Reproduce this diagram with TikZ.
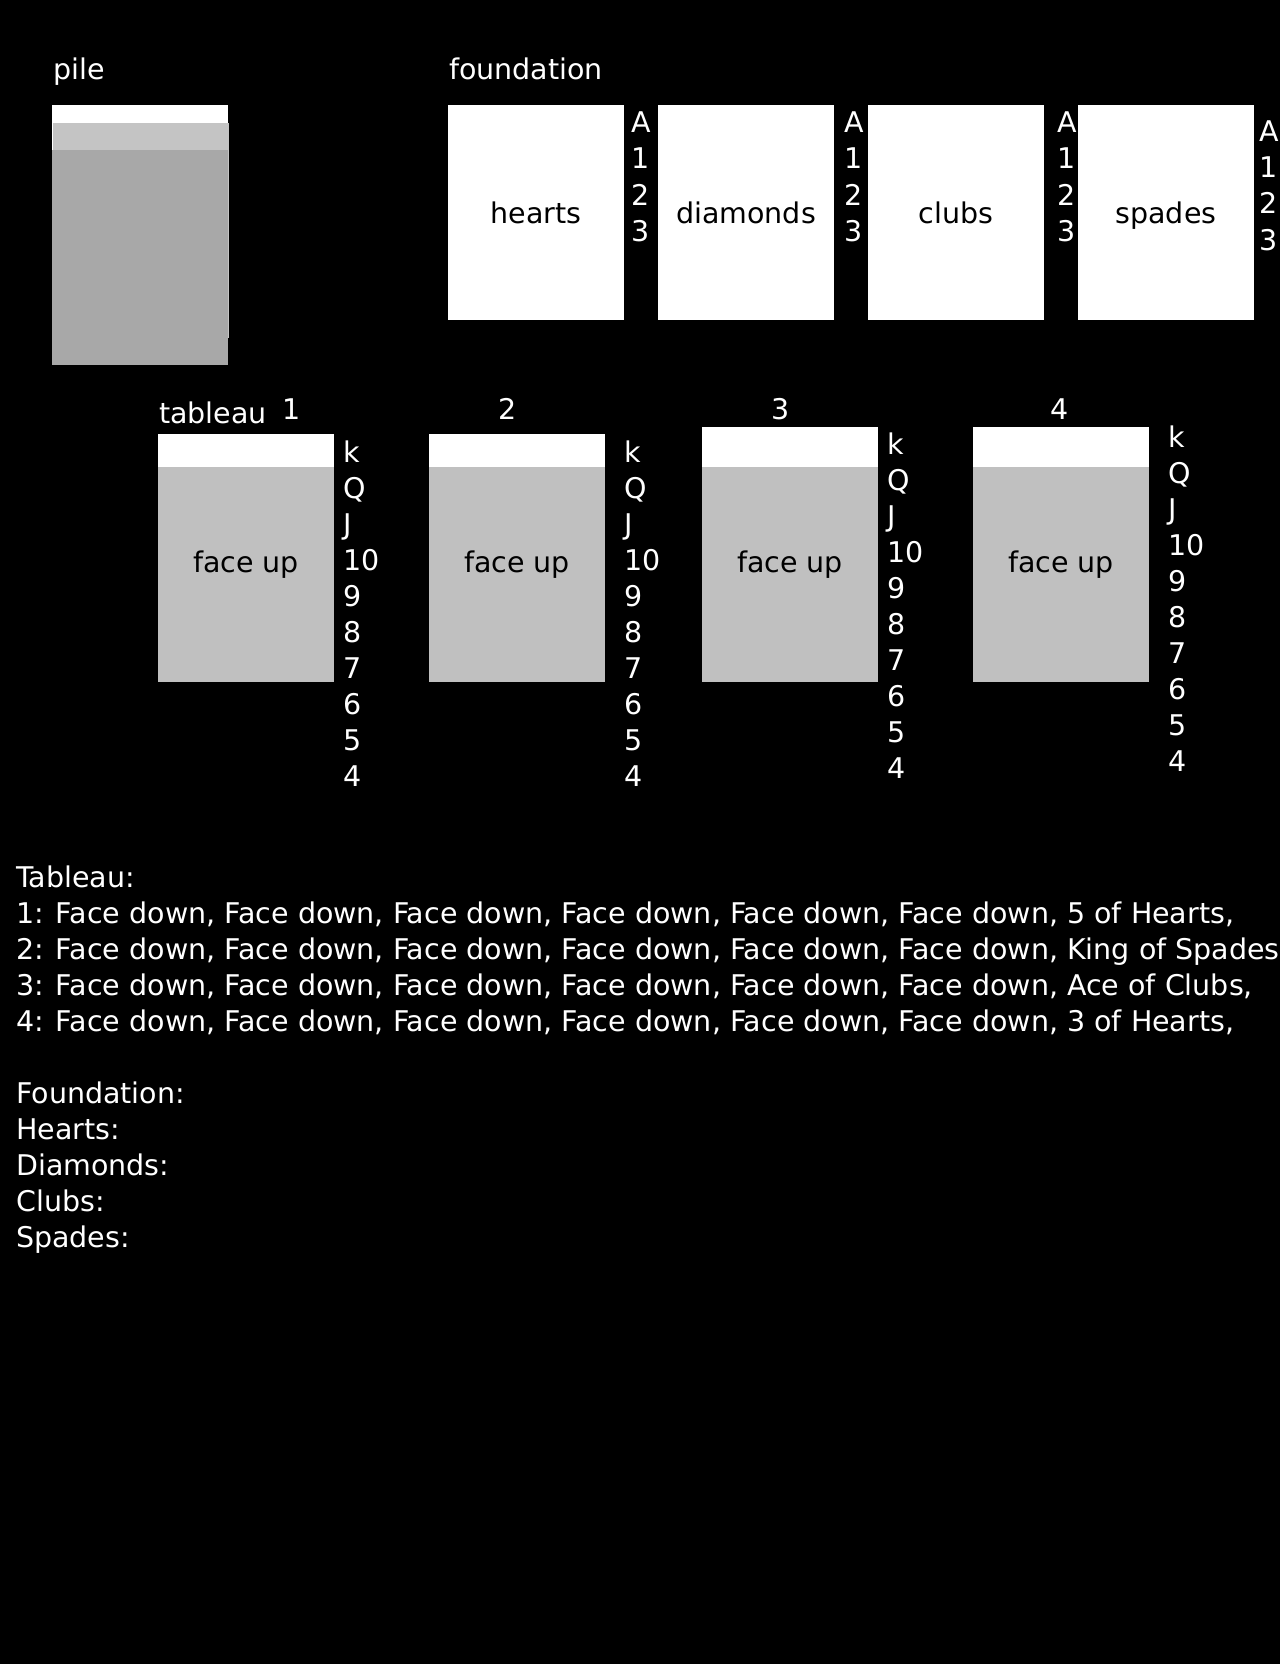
\documentclass[tikz,border=0pt]{standalone}
\usepackage{fontspec}
\setmainfont{DejaVu Sans}
\usepackage{tikz}

\definecolor{pilelight}{HTML}{C4C4C4}
\definecolor{piledark}{HTML}{A8A8A8}
\definecolor{faceup}{HTML}{C0C0C0}

\tikzset{
  card/.style={anchor=north west, minimum width=176pt, minimum height=215pt,
    inner sep=0pt, outer sep=0pt, text depth=0pt, text height=21pt,
    font=\fontsize{28.5}{36}\selectfont},
  lbl/.style={text=white, anchor=base west, inner sep=0pt,
    font=\fontsize{28.5}{36}\selectfont},
}

\begin{document}
\begin{tikzpicture}[x=1pt,y=-1pt]
  \useasboundingbox (0,0) rectangle (1280,1664);
  \fill[black] (0,0) rectangle (1280,1664);
  \clip (0,0) rectangle (1280,1664);

  % pile
  \node[lbl] (pilelbl) at (53,80) {pile};
  \node[card, fill=white] (pile1) at (52,105) {};
  \node[card, fill=pilelight] (pile2) at (53,123) {};
  \node[card, fill=piledark] (pile3) at (52,150) {};

  % foundation
  \node[lbl] (foundlbl) at (449,80) {foundation};
  \foreach \s/\x in {hearts/448, diamonds/658, clubs/868, spades/1078}
    \node[card, fill=white] (\s) at (\x,105) {\s};
  \foreach \s/\x/\y in {hearts/631/133, diamonds/844/133, clubs/1057/133, spades/1259/142}
    \foreach \r [count=\i from 0] in {A,1,2,3}
      \node[lbl] (\s-\i) at (\x,\y+36*\i) {\r};

  % tableau
  \node[lbl] (tablbl) at (159,423) {tableau};
  \foreach \c/\x/\n/\top/\rx/\ry in {1/158/292/434/343/462, 2/429/508/434/624.5/462,
                                    3/702/781/427/887/454, 4/973/1060/427/1168.5/447} {
    \node[lbl, anchor=base] (num\c) at (\n,419) {\c};
    \node[card, fill=white] (down\c) at (\x,\top) {};
    \node[card, fill=faceup] (up\c) at (\x,467) {};
    \node[font=\fontsize{28.5}{36}\selectfont, inner sep=0pt]
      (uplbl\c) at ([yshift=10pt]up\c.center) {face up};
    \foreach \r [count=\i from 0] in {k,Q,J,10,9,8,7,6,5,4}
      \node[lbl] (rank\c-\i) at (\rx,\ry+36*\i) {\r};
  }

  % state as text
  \foreach \k/\txt in {0/Tableau:,
      1/{1: Face down, Face down, Face down, Face down, Face down, Face down, 5 of Hearts,},
      2/{2: Face down, Face down, Face down, Face down, Face down, Face down, King of Spades,},
      3/{3: Face down, Face down, Face down, Face down, Face down, Face down, Ace of Clubs,},
      4/{4: Face down, Face down, Face down, Face down, Face down, Face down, 3 of Hearts,},
      6/Foundation:, 7/Hearts:, 8/Diamonds:, 9/Clubs:, 10/Spades:}
    \node[lbl] (line\k) at (16,887+36*\k) {\txt};
\end{tikzpicture}
\end{document}
